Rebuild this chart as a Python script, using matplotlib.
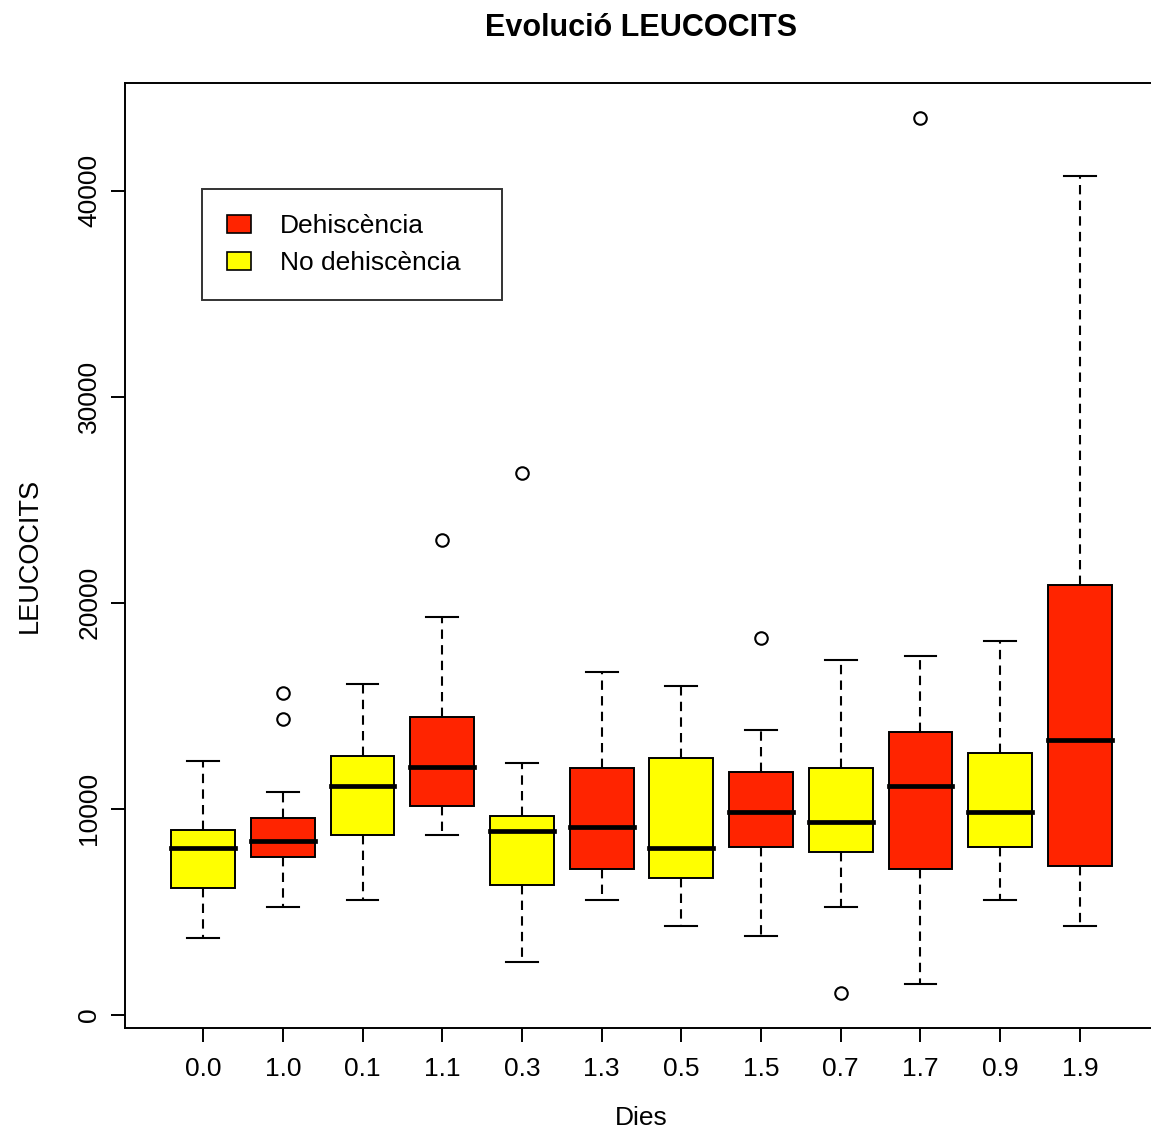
import matplotlib
matplotlib.use("Agg")
import matplotlib.pyplot as plt
from matplotlib.patches import Patch

plt.rcParams['font.family'] = ['Liberation Sans', 'DejaVu Sans']

# one box per group (group.day)
labels = ['0.0', '1.0', '0.1', '1.1', '0.3', '1.3', '0.5', '1.5', '0.7', '1.7', '0.9', '1.9']
whislo = [3720, 5230, 5580, 8740, 2560, 5580, 4290, 3840, 5230, 1500, 5580, 4290]
q1 = [6150, 7660, 8740, 10110, 6300, 7070, 6620, 8120, 7900, 7070, 8140, 7230]
med = [8070, 8430, 11120, 12040, 8900, 9130, 8090, 9840, 9350, 11080, 9820, 13320]
q3 = [8980, 9550, 12570, 14430, 9660, 11980, 12440, 11760, 11980, 13720, 12700, 20870]
whishi = [12340, 10810, 16070, 19310, 12220, 16640, 15940, 13840, 17230, 17440, 18160, 40740]
fliers = [[], [15620, 14370], [], [23060], [26310], [], [], [18290], [1050], [43540], [], []]
groups = [0, 1, 0, 1, 0, 1, 0, 1, 0, 1, 0, 1]

colors = {1: '#FF2400', 0: '#FFFF00'}
legend_labels = {1: 'Dehiscència', 0: 'No dehiscència'}

stats = []
for i in range(len(labels)):
    stats.append(dict(label=labels[i], whislo=whislo[i], q1=q1[i], med=med[i],
                      q3=q3[i], whishi=whishi[i], fliers=fliers[i]))

fig = plt.figure(figsize=(11.51, 11.42), dpi=100)
ax = fig.add_axes([0.1086, 0.0998, 0.8975, 0.8275])

bp = ax.bxp(stats, positions=range(1, len(labels) + 1), widths=0.8, capwidths=0.4,
            patch_artist=True,
            boxprops=dict(edgecolor='black', linewidth=1.4),
            medianprops=dict(color='black', linewidth=3.4, solid_capstyle='projecting'),
            whiskerprops=dict(color='black', linewidth=1.5, linestyle=(0, (4.5, 3))),
            capprops=dict(color='black', linewidth=1.5),
            flierprops=dict(marker='o', markerfacecolor='none', markeredgecolor='black',
                            markersize=9, markeredgewidth=1.5))
for patch, g in zip(bp['boxes'], groups):
    patch.set_facecolor(colors[g])

# R-style 4% padding around the data range
lo = min(min(whislo), min(min(f) for f in fliers if f))
hi = max(max(whishi), max(max(f) for f in fliers if f))
pad = 0.04 * (hi - lo)
ax.set_ylim(lo - pad, hi + pad)
ax.set_xlim(0.02, len(labels) + 0.98)

ax.set_yticks([0, 10000, 20000, 30000, 40000])
ax.tick_params(axis='both', direction='out', length=10, width=1.4, labelsize=19)
ax.tick_params(axis='x', pad=11)
ax.tick_params(axis='y', pad=7)
for t in ax.get_yticklabels():
    t.set_rotation(90)
    t.set_va('center')
for s in ax.spines.values():
    s.set_linewidth(1.4)

ax.set_xlabel('Dies', fontsize=19)
ax.set_ylabel('LEUCOCITS', fontsize=19.5)
ax.xaxis.set_label_coords(0.5, -0.095)
ax.yaxis.set_label_coords(-0.092, 0.5)
ax.xaxis.label.set_va('center')
ax.yaxis.label.set_va('center')

fig.suptitle('Evolució LEUCOCITS', x=0.557, y=1 - 28 / 1142, va='center',
             fontsize=22, fontweight='bold')

handles = [Patch(facecolor=colors[g], edgecolor='black', linewidth=1.2, label=legend_labels[g])
           for g in (1, 0)]
leg = ax.legend(handles=handles, loc='upper left', bbox_to_anchor=(0.0745, 0.888, 0.29, 0.0),
                mode='expand', fontsize=19, frameon=True, fancybox=False, borderaxespad=0,
                handlelength=0.9, handleheight=0.68, handletextpad=1.1,
                labelspacing=0.5, borderpad=0.95)
leg.get_frame().set_edgecolor('black')
leg.get_frame().set_linewidth(1.4)

fig.savefig('out.png', dpi=100)
